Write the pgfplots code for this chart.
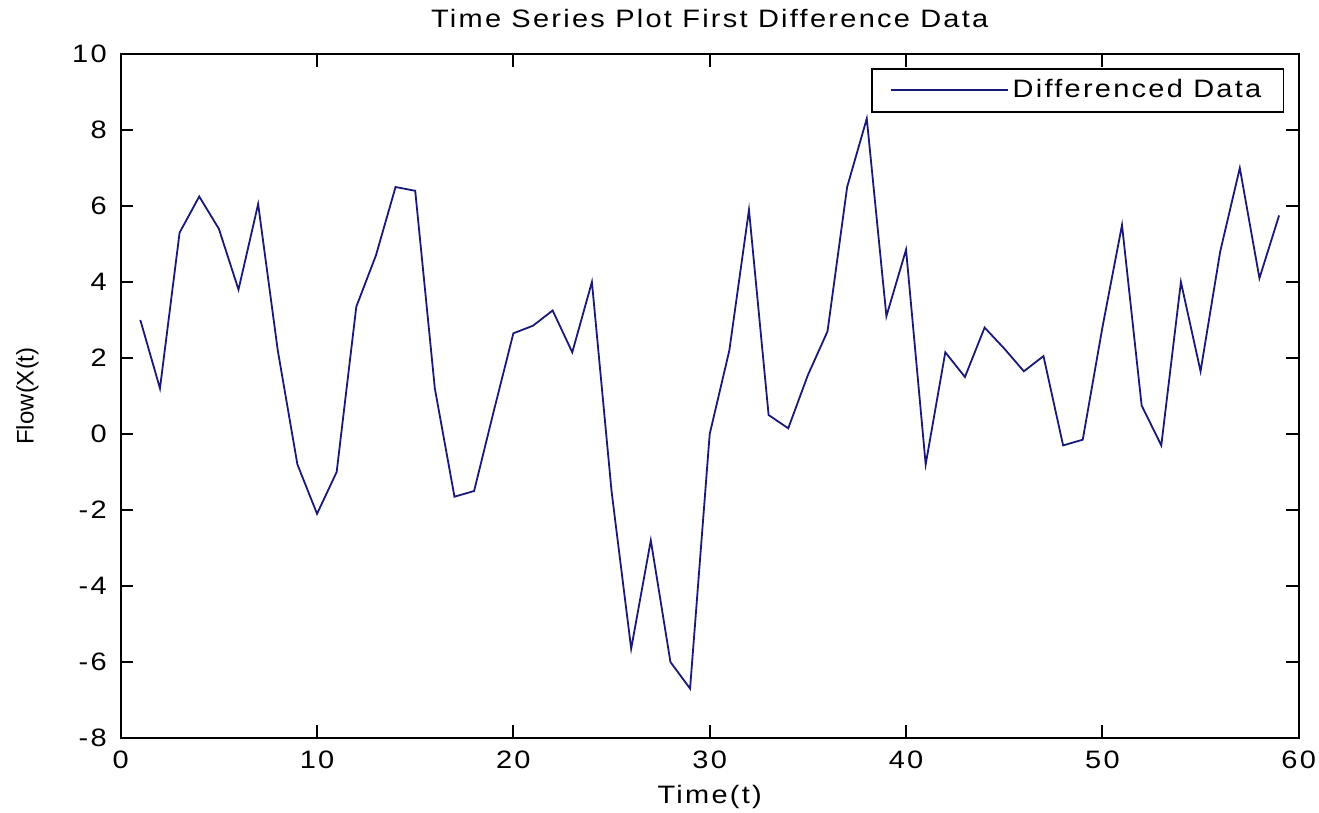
\documentclass[border=0pt]{standalone}
\usepackage{fontspec}
\setmainfont[FakeStretch=1.15,LetterSpace=9]{Liberation Sans}
\newfontfamily\plainfont{Liberation Sans}
\usepackage{pgfplots}
\pgfplotsset{compat=1.18}
\definecolor{navy}{RGB}{25,25,120}
\begin{document}
\fontsize{12.6bp}{15bp}\selectfont
\begin{tikzpicture}
\begin{axis}[
  scale only axis,
  width=589bp, height=342bp,
  xmin=0, xmax=60, ymin=-8, ymax=10,
  xtick={0,10,...,60}, ytick={-8,-6,...,10},
  tick align=inside,
  major tick length=6.3bp,
  axis line style={line width=1bp},
  every tick/.style={black, line width=1bp},
  /pgf/number format/assume math mode=true,
  tick label style={font=\fontsize{12.6bp}{15bp}\selectfont},
  xticklabel style={yshift=-1.8bp},
  yticklabel style={xshift=-2.6bp},
  title={Time Series Plot First Difference Data},
  title style={at={(axis description cs:0.5,1)}, anchor=center, yshift=12bp, font=\fontsize{12.6bp}{15bp}\selectfont},
  xlabel={Time(t)},
  xlabel style={at={(axis description cs:0.5,0)}, anchor=center, yshift=-29.5bp, font=\fontsize{12.6bp}{15bp}\selectfont},
  ylabel={Flow(X(t)},
  ylabel style={at={(axis description cs:-0.0791,0.5)}, anchor=center, font=\plainfont\fontsize{12bp}{14bp}\selectfont},
  legend style={at={(rel axis cs:1,1)}, anchor=north east, xshift=-7.3bp, yshift=-7.1bp,
    draw=black, line width=0.8bp, inner xsep=9bp, inner ysep=3.2bp, font=\fontsize{12.6bp}{15bp}\selectfont},
  legend image code/.code={\draw[#1, line width=0.9bp] (0bp,0bp) -- (55.5bp,0bp); \path (0bp,0bp) -- (58.5bp,0bp);},
]
\addplot[color=navy, line width=0.9bp] coordinates {
(1,3.0) (2,1.2) (3,5.3) (4,6.25) (5,5.4) (6,3.8) (7,6.05) (8,2.2) (9,-0.8) (10,-2.1)
(11,-1.0) (12,3.35) (13,4.7) (14,6.5) (15,6.4) (16,1.2) (17,-1.65) (18,-1.5) (19,0.6) (20,2.65)
(21,2.85) (22,3.25) (23,2.15) (24,4.0) (25,-1.5) (26,-5.65) (27,-2.8) (28,-6.0) (29,-6.7) (30,0.0)
(31,2.2) (32,5.9) (33,0.5) (34,0.15) (35,1.55) (36,2.7) (37,6.5) (38,8.3) (39,3.1) (40,4.85)
(41,-0.8) (42,2.15) (43,1.5) (44,2.8) (45,2.25) (46,1.65) (47,2.05) (48,-0.3) (49,-0.15) (50,2.8)
(51,5.5) (52,0.75) (53,-0.3) (54,4.0) (55,1.65) (56,4.8) (57,7.0) (58,4.1) (59,5.75)
};
\addlegendentry{Differenced Data}
\end{axis}
\pgfresetboundingbox
\useasboundingbox ([xshift=-60.35bp,yshift=-37bp]current axis.south west) rectangle ([xshift=10.15bp,yshift=27bp]current axis.north east);
\end{tikzpicture}
\end{document}
